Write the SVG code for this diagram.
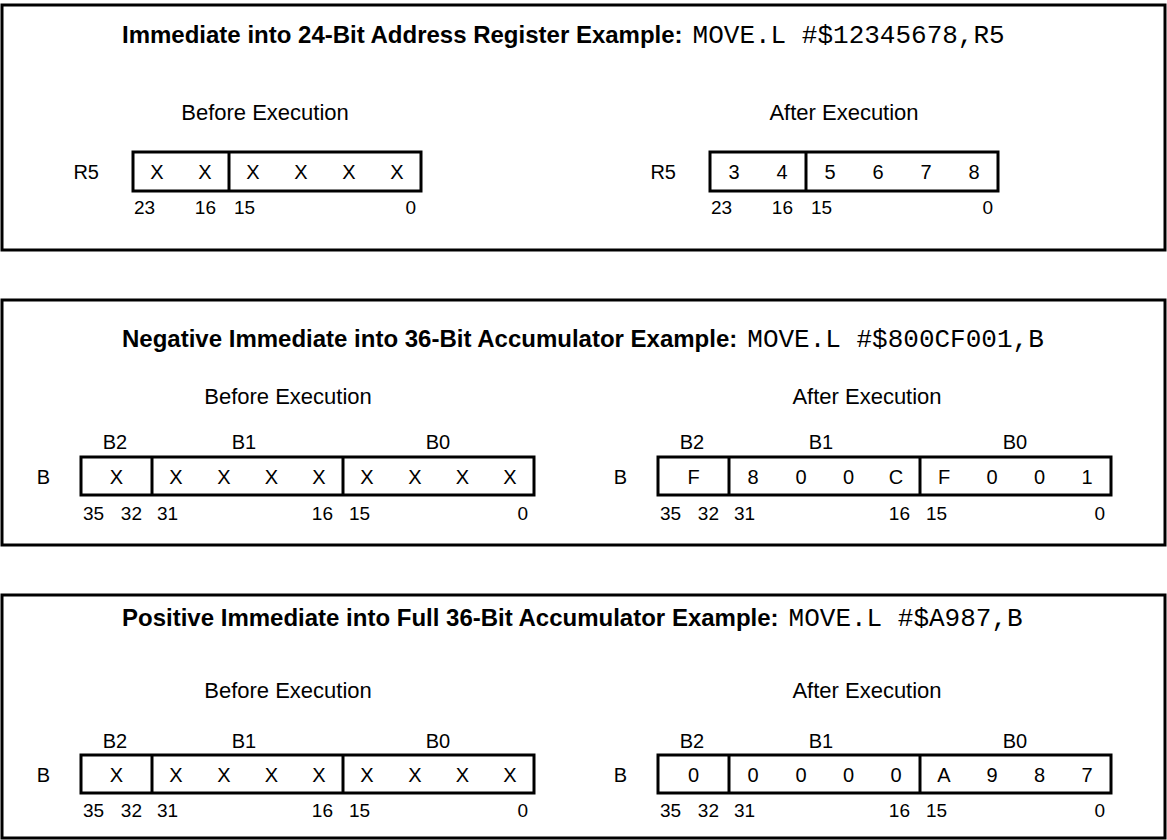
<svg xmlns="http://www.w3.org/2000/svg" width="1167" height="840" viewBox="0 0 1167 840">
<style>
.panel{fill:#fff;stroke:#000;stroke-width:3}
.reg{fill:none;stroke:#000;stroke-width:3}
.div{stroke:#000;stroke-width:3}
.tb{font-family:"Liberation Sans",Arial,sans-serif;font-weight:bold;font-size:24px;fill:#000}
.tm{font-family:"Liberation Mono","Courier New",monospace;font-weight:normal;font-size:26px;fill:#000}
.ex{font-family:"Liberation Sans",Arial,sans-serif;font-size:22px;fill:#000;text-anchor:middle}
.lb{font-family:"Liberation Sans",Arial,sans-serif;font-size:20px;fill:#000}
.c{font-family:"Liberation Sans",Arial,sans-serif;font-size:20px;fill:#000;text-anchor:middle}
.n{font-family:"Liberation Sans",Arial,sans-serif;font-size:19px;fill:#000}
.e{text-anchor:end}
.m{text-anchor:middle}
</style>
<rect width="1167" height="840" fill="#fff"/>

<g id="panel1">
<rect class="panel" x="2" y="5" width="1163" height="245"/>
<text class="tb" x="122" y="43">Immediate into 24-Bit Address Register Example:<tspan class="tm" dx="10">MOVE.L #$12345678,R5</tspan></text>
<g id="p1-before">
<text class="ex" x="265" y="120">Before Execution</text>
<text class="lb e" x="99" y="179">R5</text>
<rect class="reg" x="133" y="152" width="288" height="39"/>
<line class="div" x1="229" y1="152" x2="229" y2="191"/>
<text class="c" y="179"><tspan x="157">X</tspan><tspan x="205">X</tspan><tspan x="253">X</tspan><tspan x="301">X</tspan><tspan x="349">X</tspan><tspan x="397">X</tspan></text>
<text class="n" x="134" y="214">23</text>
<text class="n e" x="216" y="214">16</text>
<text class="n" x="234" y="214">15</text>
<text class="n e" x="416" y="214">0</text>
</g>
<g id="p1-after">
<text class="ex" x="844" y="120">After Execution</text>
<text class="lb e" x="676" y="179">R5</text>
<rect class="reg" x="710" y="152" width="288" height="39"/>
<line class="div" x1="806" y1="152" x2="806" y2="191"/>
<text class="c" y="179"><tspan x="734">3</tspan><tspan x="782">4</tspan><tspan x="830">5</tspan><tspan x="878">6</tspan><tspan x="926">7</tspan><tspan x="974">8</tspan></text>
<text class="n" x="711" y="214">23</text>
<text class="n e" x="793" y="214">16</text>
<text class="n" x="811" y="214">15</text>
<text class="n e" x="993" y="214">0</text>
</g>
</g>

<g id="panel2">
<rect class="panel" x="2" y="300" width="1163" height="245"/>
<text class="tb" x="122" y="347">Negative Immediate into 36-Bit Accumulator Example:<tspan class="tm" dx="10">MOVE.L #$800CF001,B</tspan></text>
<g id="p2-before">
<text class="ex" x="288" y="404">Before Execution</text>
<text class="lb m" y="449"><tspan x="115">B2</tspan><tspan x="244">B1</tspan><tspan x="438">B0</tspan></text>
<text class="lb e" x="50" y="484">B</text>
<rect class="reg" x="81" y="457" width="453" height="38"/>
<line class="div" x1="152" y1="457" x2="152" y2="495"/>
<line class="div" x1="343" y1="457" x2="343" y2="495"/>
<text class="c" y="484"><tspan x="116.5">X</tspan><tspan x="176">X</tspan><tspan x="224">X</tspan><tspan x="271.5">X</tspan><tspan x="319">X</tspan><tspan x="367">X</tspan><tspan x="415">X</tspan><tspan x="462.5">X</tspan><tspan x="510">X</tspan></text>
<text class="n" x="83" y="520">35</text>
<text class="n e" x="142" y="520">32</text>
<text class="n" x="157" y="520">31</text>
<text class="n e" x="333" y="520">16</text>
<text class="n" x="349" y="520">15</text>
<text class="n e" x="528" y="520">0</text>
</g>
<g id="p2-after">
<text class="ex" x="867" y="404">After Execution</text>
<text class="lb m" y="449"><tspan x="692">B2</tspan><tspan x="821">B1</tspan><tspan x="1015">B0</tspan></text>
<text class="lb e" x="627" y="484">B</text>
<rect class="reg" x="658" y="457" width="453" height="38"/>
<line class="div" x1="729" y1="457" x2="729" y2="495"/>
<line class="div" x1="920" y1="457" x2="920" y2="495"/>
<text class="c" y="484"><tspan x="693.5">F</tspan><tspan x="753">8</tspan><tspan x="801">0</tspan><tspan x="848.5">0</tspan><tspan x="896">C</tspan><tspan x="944">F</tspan><tspan x="992">0</tspan><tspan x="1039.5">0</tspan><tspan x="1087">1</tspan></text>
<text class="n" x="660" y="520">35</text>
<text class="n e" x="719" y="520">32</text>
<text class="n" x="734" y="520">31</text>
<text class="n e" x="910" y="520">16</text>
<text class="n" x="926" y="520">15</text>
<text class="n e" x="1105" y="520">0</text>
</g>
</g>

<g id="panel3">
<rect class="panel" x="2" y="595" width="1163" height="243"/>
<text class="tb" x="122" y="626">Positive Immediate into Full 36-Bit Accumulator Example:<tspan class="tm" dx="10">MOVE.L #$A987,B</tspan></text>
<g id="p3-before">
<text class="ex" x="288" y="698">Before Execution</text>
<text class="lb m" y="748"><tspan x="115">B2</tspan><tspan x="244">B1</tspan><tspan x="438">B0</tspan></text>
<text class="lb e" x="50" y="782">B</text>
<rect class="reg" x="81" y="755" width="453" height="38"/>
<line class="div" x1="152" y1="755" x2="152" y2="793"/>
<line class="div" x1="343" y1="755" x2="343" y2="793"/>
<text class="c" y="782"><tspan x="116.5">X</tspan><tspan x="176">X</tspan><tspan x="224">X</tspan><tspan x="271.5">X</tspan><tspan x="319">X</tspan><tspan x="367">X</tspan><tspan x="415">X</tspan><tspan x="462.5">X</tspan><tspan x="510">X</tspan></text>
<text class="n" x="83" y="817">35</text>
<text class="n e" x="142" y="817">32</text>
<text class="n" x="157" y="817">31</text>
<text class="n e" x="333" y="817">16</text>
<text class="n" x="349" y="817">15</text>
<text class="n e" x="528" y="817">0</text>
</g>
<g id="p3-after">
<text class="ex" x="867" y="698">After Execution</text>
<text class="lb m" y="748"><tspan x="692">B2</tspan><tspan x="821">B1</tspan><tspan x="1015">B0</tspan></text>
<text class="lb e" x="627" y="782">B</text>
<rect class="reg" x="658" y="755" width="453" height="38"/>
<line class="div" x1="729" y1="755" x2="729" y2="793"/>
<line class="div" x1="920" y1="755" x2="920" y2="793"/>
<text class="c" y="782"><tspan x="693.5">0</tspan><tspan x="753">0</tspan><tspan x="801">0</tspan><tspan x="848.5">0</tspan><tspan x="896">0</tspan><tspan x="944">A</tspan><tspan x="992">9</tspan><tspan x="1039.5">8</tspan><tspan x="1087">7</tspan></text>
<text class="n" x="660" y="817">35</text>
<text class="n e" x="719" y="817">32</text>
<text class="n" x="734" y="817">31</text>
<text class="n e" x="910" y="817">16</text>
<text class="n" x="926" y="817">15</text>
<text class="n e" x="1105" y="817">0</text>
</g>
</g>
<g id="connectors"/>
</svg>
